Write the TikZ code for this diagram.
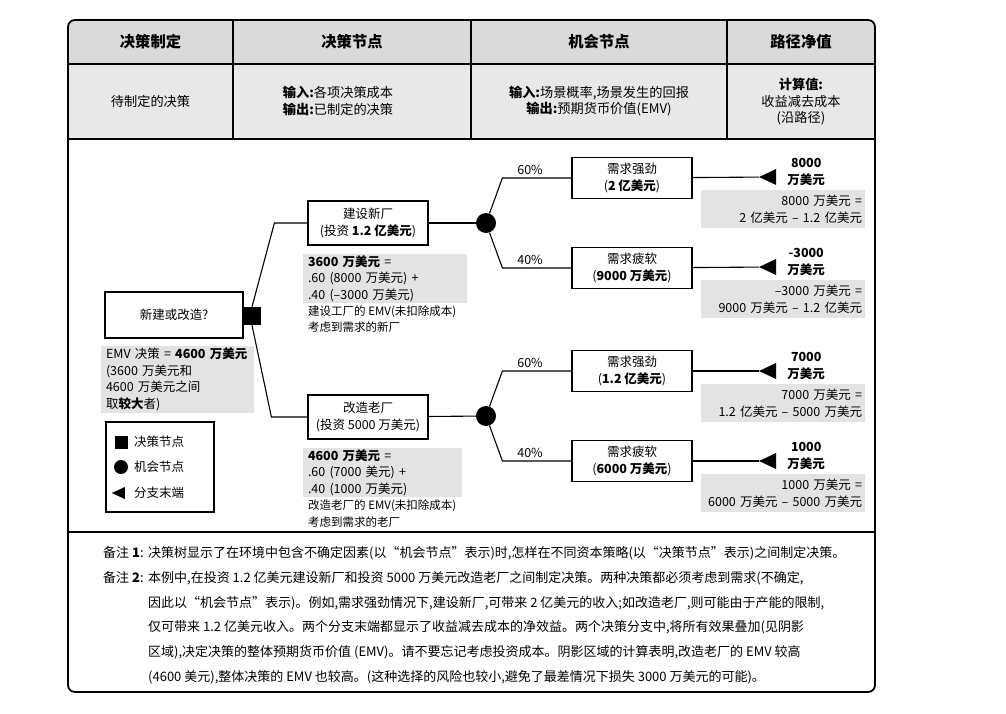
\documentclass[tikz,border=0pt]{standalone}
\usepackage{fontspec}
\setmainfont{Noto Sans CJK SC}
\usetikzlibrary{positioning, shapes.geometric, calc}

\definecolor{headgray}{HTML}{DADADA}
\definecolor{rowgray}{HTML}{E8E8E8}
\definecolor{shadegray}{HTML}{E3E3E3}

\newcommand{\headfont}{\fontsize{15.3}{18}\selectfont\bfseries}
\newcommand{\rowfont}{\fontsize{13.2}{16.5}\selectfont}
\newcommand{\treefont}{\fontsize{12.5}{16.5}\selectfont}
\newcommand{\smallfont}{\fontsize{11.5}{16.5}\selectfont}
\newcommand{\notefont}{\fontsize{13}{24.8}\selectfont}

\tikzset{
    choicebox/.style={draw, line width=1.2pt, fill=white, align=center, minimum width=120pt, minimum height=44pt, inner sep=2pt, font=\treefont},
    decnode/.style={rectangle, fill=black, minimum size=18pt, inner sep=0pt},
    chancenode/.style={circle, fill=black, minimum size=20pt, inner sep=0pt},
    endnode/.style={isosceles triangle, isosceles triangle stretches, shape border rotate=180, fill=black, minimum width=16pt, minimum height=17pt, inner sep=0pt},
    shadebox/.style={fill=shadegray, inner xsep=5pt, inner ysep=0pt, font=\treefont},
    gainbox/.style={shadebox, align=right, inner xsep=3pt, text width=158pt, minimum height=38pt},
    branch/.style={line width=1.1pt},
    problabel/.style={above, font=\treefont, inner sep=3pt},
    valuelabel/.style={anchor=west, align=center, font=\treefont\bfseries, inner sep=0pt},
    remark/.style={anchor=west, align=left, font=\smallfont, inner sep=0pt},
    notetext/.style={anchor=west, align=left, font=\notefont, inner sep=0pt}
}

\begin{document}
\begin{tikzpicture}[x=1pt, y=-1pt]
    \useasboundingbox (0,0) rectangle (1006,714);

    \begin{scope}
        \clip[rounded corners=7pt] (68,20) rectangle (875,692);
        \fill[headgray] (68,20) rectangle (875,64);
        \fill[rowgray] (68,64) rectangle (875,139);
    \end{scope}
    \draw[line width=1.8pt, rounded corners=7pt] (68,20) rectangle (875,692);
    \draw[line width=1.3pt]
    (68,64) -- (875,64)
    (68,139) -- (875,139)
    (68,532) -- (875,532)
    (233,20) -- (233,139)
    (471,20) -- (471,139)
    (727,20) -- (727,139);

    \node[font=\headfont] (hmake) at (150.5,42) {决策制定};
    \node[font=\headfont] (hdec) at (352,42) {决策节点};
    \node[font=\headfont] (hchance) at (599,42) {机会节点};
    \node[font=\headfont] (hpath) at (801,42) {路径净值};

    \node[font=\rowfont, align=center] (rmake) at (150.5,101) {待制定的决策};
    \node[font=\rowfont, align=center] (rdec) at (338,101) {\textbf{输入:}各项决策成本\\\textbf{输出:}已制定的决策};
    \node[font=\rowfont, align=center] (rchance) at (599,101) {\textbf{输入:}场景概率,场景发生的回报\\\textbf{输出:}预期货币价值(EMV)};
    \node[font=\rowfont, align=center] (rpath) at (801,102) {\textbf{计算值:}\\收益减去成本\\(沿路径)};

    \node[choicebox, minimum width=138pt, minimum height=46pt] (ask) at (174,315) {新建或改造?};
    \node[decnode] (dec) at (252,316) {};
    \node[choicebox] (newplant) at (368,223) {建设新厂\\(投资 \textbf{1.2 亿美元})};
    \node[choicebox] (oldplant) at (368,417) {改造老厂\\(投资 5000 万美元)};
    \node[chancenode] (cnew) at (486,223) {};
    \node[chancenode] (cold) at (486,416) {};

    \node[choicebox, minimum height=41pt] (newhigh) at (632,178) {需求强劲\\(\textbf{2 亿美元})};
    \node[choicebox, minimum height=41pt] (newlow) at (632,268) {需求疲软\\(\textbf{9000 万美元})};
    \node[choicebox, minimum height=41pt] (oldhigh) at (632,371) {需求强劲\\(\textbf{1.2 亿美元})};
    \node[choicebox, minimum height=41pt] (oldlow) at (632,461) {需求疲软\\(\textbf{6000 万美元})};

    \node[endnode] (tnewhigh) at (771,177) {};
    \node[endnode] (tnewlow) at (771,267) {};
    \node[endnode] (toldhigh) at (771,371) {};
    \node[endnode] (toldlow) at (771,461) {};

    \node[valuelabel] (vnewhigh) at ($(tnewhigh.east)+(11,-5)$) {8000\\万美元};
    \node[valuelabel] (vnewlow) at ($(tnewlow.east)+(11,-5)$) {-3000\\万美元};
    \node[valuelabel] (voldhigh) at ($(toldhigh.east)+(11,-5)$) {7000\\万美元};
    \node[valuelabel] (voldlow) at ($(toldlow.east)+(11,-5)$) {1000\\万美元};

    \node[gainbox] (gnewhigh) at (783,209) {8000 万美元 =\\2 亿美元 – 1.2 亿美元};
    \node[gainbox] (gnewlow) at (783,299) {–3000 万美元 =\\9000 万美元 – 1.2 亿美元};
    \node[gainbox] (goldhigh) at (783,403) {7000 万美元 =\\1.2 亿美元 – 5000 万美元};
    \node[gainbox] (goldlow) at (783,493) {1000 万美元 =\\6000 万美元 – 5000 万美元};

    \node[shadebox, align=left, text width=154pt, minimum height=49pt] (emvnew) at (385,278.5) {\textbf{3600 万美元} =\\.60 (8000 万美元) +\\.40 (–3000 万美元)};
    \node[remark] (remnew) at (308,319) {建设工厂的 EMV(未扣除成本)\\考虑到需求的新厂};
    \node[shadebox, align=left, text width=149pt, minimum height=49pt] (emvold) at (382.5,472.5) {\textbf{4600 万美元} =\\.60 (7000 美元) +\\.40 (1000 万美元)};
    \node[remark] (remold) at (308,513.5) {改造老厂的 EMV(未扣除成本)\\考虑到需求的老厂};

    \node[shadebox, align=left, inner xsep=5pt, text width=143pt, minimum height=67pt] (emvdec) at (177.5,379.5) {EMV 决策 = \textbf{4600 万美元}\\(3600 万美元和\\4600 万美元之间\\取\textbf{较大}者)};

    \node[draw, line width=1.2pt, minimum width=108pt, minimum height=90pt] (legend) at (160,467) {};
    \node[decnode, minimum size=13pt] (lgdec) at (121,442) {};
    \node[chancenode, minimum size=14pt] (lgchance) at (121,467) {};
    \node[endnode, minimum width=12pt, minimum height=13pt] (lgend) at (121,493) {};
    \node[anchor=west, font=\treefont, inner sep=0pt] (lgdectext) at (134,442) {决策节点};
    \node[anchor=west, font=\treefont, inner sep=0pt] (lgchancetext) at (134,467) {机会节点};
    \node[anchor=west, font=\treefont, inner sep=0pt] (lgendtext) at (134,493) {分支末端};

    \draw[branch] (ask) -- (dec);
    \draw[branch] (dec.north) -- ($(newplant.west)+(-33,0)$) -- (newplant.west);
    \draw[branch] (dec.south) -- ($(oldplant.west)+(-36,0)$) -- (oldplant.west);
    \draw[branch] (newplant) -- (cnew);
    \draw[branch] (oldplant) -- (cold);
    \draw[branch] (cnew) -- ($(newhigh.west)+(-69,0)$) -- node[problabel, pos=0.4] (pnewhigh) {60\%} (newhigh.west);
    \draw[branch] (cnew) -- ($(newlow.west)+(-69,0)$) -- node[problabel, pos=0.4] (pnewlow) {40\%} (newlow.west);
    \draw[branch] (cold) -- ($(oldhigh.west)+(-69,0)$) -- node[problabel, pos=0.4] (poldhigh) {60\%} (oldhigh.west);
    \draw[branch] (cold) -- ($(oldlow.west)+(-69,0)$) -- node[problabel, pos=0.4] (poldlow) {40\%} (oldlow.west);
    \draw[branch] (newhigh) -- (tnewhigh);
    \draw[branch] (newlow) -- (tnewlow);
    \draw[branch] (oldhigh) -- (toldhigh);
    \draw[branch] (oldlow) -- (toldlow);

    \node[notetext] (nlabel1) at (103,553) {备注 \textbf{1}:};
    \node[notetext] (nlabel2) at (103,578) {备注 \textbf{2}:};
    \node[notetext] (note1) at (148,553) {决策树显示了在环境中包含不确定因素(以“机会节点”表示)时,怎样在不同资本策略(以“决策节点”表示)之间制定决策。};
    \node[notetext] (note2) at (148,627.6) {本例中,在投资 1.2 亿美元建设新厂和投资 5000 万美元改造老厂之间制定决策。两种决策都必须考虑到需求(不确定,\\
    因此以“机会节点”表示)。例如,需求强劲情况下,建设新厂,可带来 2 亿美元的收入;如改造老厂,则可能由于产能的限制,\\
    仅可带来 1.2 亿美元收入。两个分支末端都显示了收益减去成本的净效益。两个决策分支中,将所有效果叠加(见阴影\\
    区域),决定决策的整体预期货币价值 (EMV)。请不要忘记考虑投资成本。阴影区域的计算表明,改造老厂的 EMV 较高\\
    (4600 美元),整体决策的 EMV 也较高。(这种选择的风险也较小,避免了最差情况下损失 3000 万美元的可能)。};
\end{tikzpicture}
\end{document}
